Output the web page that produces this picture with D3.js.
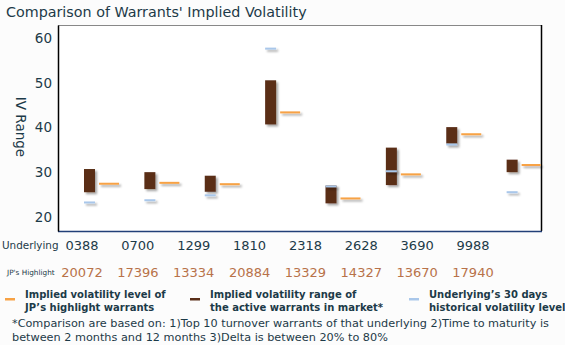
<!DOCTYPE html>
<html>
<head>
<meta charset="utf-8">
<script src="https://cdn.jsdelivr.net/npm/d3@7"></script>
<style>
  body { margin: 0; background: #fcfcfc; }
  text { font-family: Verdana, "DejaVu Sans", sans-serif; }
</style>
</head>
<body>
<svg id="chart" width="565" height="345"></svg>
<script>
// data
var underlyings = ['0388', '0700', '1299', '1810', '2318', '2628', '3690', '9988'];
var highlights  = ['20072', '17396', '13334', '20884', '13329', '14327', '13670', '17940'];
var rangeLow    = [25.5, 26.2, 25.6, 40.7, 23.0, 27.1, 36.4, 30.0];
var rangeHigh   = [30.7, 30.0, 29.2, 50.6, 27.0, 35.5, 40.1, 32.8];
var jpLevel     = [27.4, 27.6, 27.3, 43.4, 24.1, 29.5, 38.5, 31.6];
var histVol     = [23.2, 23.7, 24.8, 57.7, 26.8, 30.2, 36.2, 25.5];
var yTicks      = [20, 30, 40, 50, 60];

var svg = d3.select('#chart'),
	plot = { left: 58, right: 541, top: 25, bottom: 231 },
	darkText = '#1c3a48';

var defs = svg.append('defs');
var f = defs.append('filter').attr('id', 'shadow')
	.attr('x', '-50%').attr('y', '-200%').attr('width', '200%').attr('height', '500%');
f.append('feDropShadow').attr('dx', 2).attr('dy', 2).attr('stdDeviation', 1.2)
	.attr('flood-color', '#000').attr('flood-opacity', 0.35);

var x = d3.scaleBand()
	.domain(underlyings)
	.range([plot.left, plot.right]);

var y = d3.scaleLinear()
	.domain([16.8, 63])
	.range([plot.bottom, plot.top]);

var xLabel = d3.scalePoint()
	.domain(underlyings)
	.range([82, 473]);

// title
svg.append('text')
	.attr('x', 6).attr('y', 17)
	.attr('font-size', 14.3)
	.attr('fill', darkText)
	.text("Comparison of Warrants' Implied Volatility");

// plot background + borders
svg.append('rect')
	.attr('x', plot.left).attr('y', plot.top)
	.attr('width', plot.right - plot.left).attr('height', plot.bottom - plot.top)
	.attr('fill', '#fff');
svg.append('line').attr('x1', plot.left).attr('x2', plot.right)
	.attr('y1', plot.top + 0.5).attr('y2', plot.top + 0.5)
	.attr('stroke', '#888').attr('stroke-width', 1);
svg.append('line').attr('x1', plot.right + 0.5).attr('x2', plot.right + 0.5)
	.attr('y1', plot.top).attr('y2', plot.bottom)
	.attr('stroke', '#000').attr('stroke-width', 1.5);
svg.append('line').attr('x1', plot.left).attr('x2', plot.right + 1)
	.attr('y1', plot.bottom + 0.5).attr('y2', plot.bottom + 0.5)
	.attr('stroke', '#223f78').attr('stroke-width', 1.5);

// y axis
var yAxis = svg.append('g')
	.attr('transform', 'translate(' + plot.left + ',0)')
	.call(d3.axisLeft(y).tickValues(yTicks).tickSize(0).tickPadding(6));
yAxis.select('.domain').attr('stroke', '#000').attr('stroke-width', 1.5);
yAxis.selectAll('text')
	.attr('font-size', 13.5)
	.attr('fill', darkText)
	.style('font-family', 'Verdana, "DejaVu Sans", sans-serif');

svg.append('text')
	.attr('transform', 'translate(16,127) rotate(90)')
	.attr('text-anchor', 'middle')
	.attr('font-size', 13.5)
	.attr('fill', darkText)
	.text('IV Range');

// marks
var groups = svg.append('g').selectAll('g')
	.data(underlyings)
	.enter()
	.append('g')
	.attr('transform', function (d) { return 'translate(' + x(d) + ',0)'; });

groups.append('rect')
	.attr('x', 26)
	.attr('width', 11)
	.attr('y', function (d, i) { return y(rangeHigh[i]); })
	.attr('height', function (d, i) { return y(rangeLow[i]) - y(rangeHigh[i]); })
	.attr('fill', '#5a2f19')
	.attr('filter', 'url(#shadow)');

groups.append('rect')
	.attr('x', 26).attr('width', 11).attr('height', 2)
	.attr('y', function (d, i) { return y(histVol[i]) - 1; })
	.attr('fill', '#a9c7ea')
	.attr('filter', 'url(#shadow)');

groups.append('rect')
	.attr('x', 41)
	.attr('width', function (d, i) { return i === underlyings.length - 1 ? 19 : 20; })
	.attr('height', 2)
	.attr('y', function (d, i) { return y(jpLevel[i]) - 1; })
	.attr('fill', '#f7a245')
	.attr('filter', 'url(#shadow)');

// underlying + highlight rows
svg.append('text')
	.attr('x', 2).attr('y', 249)
	.attr('font-size', 10.4)
	.attr('fill', darkText)
	.text('Underlying');

svg.append('g').selectAll('text')
	.data(underlyings)
	.enter().append('text')
	.attr('x', function (d) { return xLabel(d); })
	.attr('y', 250)
	.attr('text-anchor', 'middle')
	.attr('font-size', 13)
	.attr('fill', darkText)
	.text(function (d) { return d; });

svg.append('text')
	.attr('x', 7).attr('y', 275)
	.attr('font-size', 7.3)
	.attr('fill', darkText)
	.text("JP's Highlight");

svg.append('g').selectAll('text')
	.data(highlights)
	.enter().append('text')
	.attr('x', function (d, i) { return xLabel(underlyings[i]); })
	.attr('y', 277)
	.attr('text-anchor', 'middle')
	.attr('font-size', 13)
	.attr('fill', '#b87249')
	.text(function (d) { return d; });

// legend
var legend = [
	{ color: '#f7a245', x: 5, lines: ['Implied volatility level of', 'JP\u2019s highlight warrants'] },
	{ color: '#5a2f19', x: 190, lines: ['Implied volatility range of', 'the active warrants in market*'] },
	{ color: '#a9c7ea', x: 409, lines: ['Underlying\u2019s 30 days', 'historical volatility level'] }
];
var lg = svg.append('g').selectAll('g')
	.data(legend)
	.enter().append('g')
	.attr('transform', function (d) { return 'translate(' + d.x + ',0)'; });
lg.append('rect')
	.attr('x', 0).attr('y', 298)
	.attr('width', 10).attr('height', 2.5)
	.attr('fill', function (d) { return d.color; });
lg.each(function (d) {
	var t = d3.select(this).append('text')
		.attr('font-size', 10)
		.attr('font-weight', 'bold')
		.attr('fill', darkText);
	d.lines.forEach(function (l, k) {
		t.append('tspan').attr('x', 20).attr('y', 298 + k * 13).text(l);
	});
});

// footnote
var note = svg.append('text')
	.attr('font-size', 11.25)
	.attr('fill', darkText);
note.append('tspan').attr('x', 12).attr('y', 327)
	.text('*Comparison are based on: 1)Top 10 turnover warrants of that underlying 2)Time to maturity is');
note.append('tspan').attr('x', 12).attr('y', 341)
	.text('between 2 months and 12 months 3)Delta is between 20% to 80%');
</script>
</body>
</html>
